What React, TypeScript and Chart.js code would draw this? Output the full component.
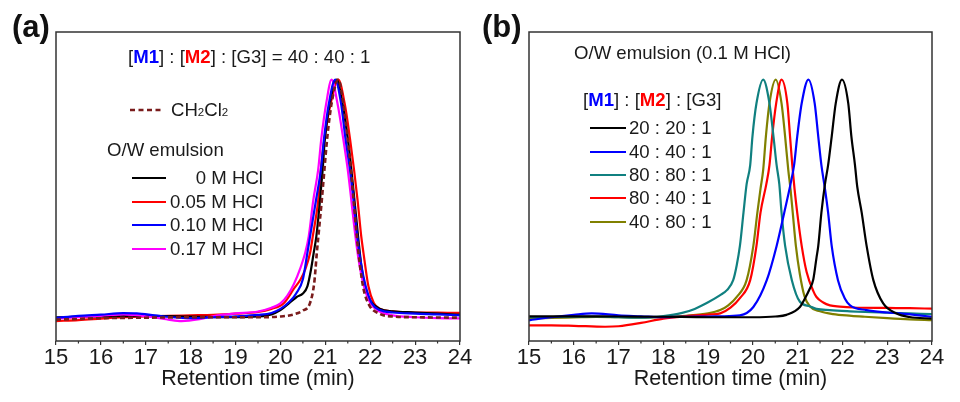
import React, { useEffect, useRef } from "react";
import { Chart, registerables } from "chart.js";

Chart.register(...registerables);

const FONT = '"Liberation Sans", Arial, Helvetica, sans-serif';
const TEXT = "#1a1a1a";

// ---------------- Panel (a) data: [M1]:[M2]:[G3] = 40:40:1 ----------------
const timeA_CH2Cl2 = [15, 15.5, 16, 17, 18, 19, 19.5, 20.0, 20.3, 20.5, 20.65, 20.75, 20.78, 20.81, 20.86, 20.92, 20.97, 21.04, 21.14, 21.29, 21.4, 21.5, 21.57, 21.63, 21.7, 21.77, 21.85, 21.98, 22.2, 22.5, 23, 24];
const signalA_CH2Cl2 = [-0.01, -0.007, -0.004, -0.002, 0.0, 0.0, 0.0, 0.003, 0.012, 0.028, 0.055, 0.14, 0.2, 0.27, 0.37, 0.49, 0.6, 0.75, 0.9, 1.0, 0.9, 0.75, 0.62, 0.49, 0.34, 0.22, 0.12, 0.05, 0.015, 0.003, 0.0, -0.002];

const timeA_0M = [15, 16, 17, 18, 19, 19.5, 19.8, 20.0, 20.2, 20.36, 20.5, 20.6, 20.68, 20.74, 20.8, 20.88, 20.94, 20.99, 21.1, 21.25, 21.38, 21.5, 21.58, 21.65, 21.73, 21.8, 21.88, 22.0, 22.22, 22.5, 23, 23.5, 24];
const signalA_0M = [0.0, 0.003, 0.006, 0.003, 0.0, 0.003, 0.012, 0.03, 0.06, 0.085, 0.1, 0.13, 0.2, 0.27, 0.34, 0.49, 0.62, 0.75, 0.9, 1.0, 0.9, 0.75, 0.62, 0.49, 0.34, 0.22, 0.13, 0.07, 0.035, 0.025, 0.02, 0.015, 0.01];

const timeA_005M = [15, 15.5, 16, 16.5, 17, 17.5, 18, 18.5, 19, 19.5, 19.8, 20.07, 20.3, 20.45, 20.55, 20.66, 20.72, 20.84, 20.9, 20.98, 21.12, 21.29, 21.43, 21.55, 21.64, 21.72, 21.8, 21.85, 21.96, 22.08, 22.22, 22.5, 23, 23.5, 24];
const signalA_005M = [-0.016, -0.012, -0.006, 0.0, 0.003, 0.006, 0.008, 0.01, 0.015, 0.022, 0.035, 0.058, 0.12, 0.16, 0.2, 0.27, 0.34, 0.49, 0.62, 0.75, 0.9, 1.0, 0.9, 0.75, 0.62, 0.49, 0.34, 0.27, 0.13, 0.06, 0.035, 0.025, 0.02, 0.02, 0.018];

const timeA_010M = [15, 15.5, 16, 16.5, 16.8, 17.2, 17.6, 18, 18.5, 19, 19.5, 19.8, 20, 20.2, 20.35, 20.5, 20.6, 20.66, 20.79, 20.9, 20.97, 21.08, 21.22, 21.35, 21.45, 21.55, 21.63, 21.71, 21.8, 21.9, 22.03, 22.22, 22.5, 23, 23.5, 24];
const signalA_010M = [-0.003, 0.006, 0.011, 0.017, 0.016, 0.008, 0.0, -0.004, 0.0, 0.004, 0.01, 0.018, 0.035, 0.065, 0.1, 0.16, 0.27, 0.34, 0.49, 0.62, 0.75, 0.9, 1.0, 0.9, 0.75, 0.62, 0.49, 0.34, 0.22, 0.13, 0.06, 0.03, 0.02, 0.015, 0.012, 0.008];

const timeA_017M = [15, 15.5, 16, 16.5, 17, 17.5, 17.8, 18.2, 18.6, 19, 19.5, 19.8, 20, 20.15, 20.3, 20.45, 20.55, 20.63, 20.73, 20.84, 20.91, 21.02, 21.14, 21.27, 21.4, 21.5, 21.58, 21.67, 21.76, 21.86, 22.0, 22.2, 22.5, 23, 23.5, 24];
const signalA_017M = [-0.006, 0.0, 0.006, 0.012, 0.004, -0.01, -0.016, -0.008, 0.008, 0.016, 0.024, 0.04, 0.058, 0.09, 0.14, 0.21, 0.27, 0.34, 0.49, 0.62, 0.75, 0.9, 1.0, 0.9, 0.75, 0.62, 0.49, 0.34, 0.22, 0.13, 0.06, 0.025, 0.008, 0.0, -0.004, -0.005];

// ---------------- Panel (b) data: O/W emulsion (0.1 M HCl) ----------------
const timeB_20_20 = [15, 16, 17, 18, 19, 20, 20.5, 20.75, 21.05, 21.15, 21.27, 21.35, 21.42, 21.46, 21.53, 21.61, 21.68, 21.76, 21.85, 21.99, 22.13, 22.2, 22.28, 22.33, 22.43, 22.54, 22.69, 22.91, 23.21, 23.5, 24];
const signalB_20_20 = [0.004, 0.004, 0.003, 0.002, 0.0, 0.0, 0.003, 0.01, 0.043, 0.075, 0.12, 0.16, 0.25, 0.3, 0.44, 0.56, 0.64, 0.76, 0.9, 1.0, 0.9, 0.76, 0.64, 0.55, 0.44, 0.3, 0.156, 0.058, 0.016, 0.001, -0.006];

const timeB_40_40 = [15, 15.5, 16, 16.4, 17, 17.5, 18, 18.5, 19, 19.3, 19.71, 20.01, 20.31, 20.53, 20.7, 20.84, 20.92, 20.99, 21.09, 21.24, 21.38, 21.46, 21.53, 21.61, 21.68, 21.76, 21.9, 22.05, 22.17, 22.54, 23, 23.28, 24];
const signalB_40_40 = [-0.013, 0.0, 0.01, 0.016, 0.008, 0.004, 0.0, 0.002, 0.003, 0.004, 0.008, 0.043, 0.156, 0.3, 0.44, 0.56, 0.64, 0.76, 0.9, 1.0, 0.9, 0.76, 0.64, 0.54, 0.44, 0.3, 0.156, 0.08, 0.05, 0.03, 0.02, 0.016, 0.002];

const timeB_80_80 = [15, 15.5, 16, 16.5, 17, 17.5, 18, 18.4, 18.7, 19.0, 19.27, 19.42, 19.56, 19.64, 19.71, 19.79, 19.86, 19.94, 19.99, 20.08, 20.23, 20.37, 20.46, 20.53, 20.59, 20.64, 20.72, 20.87, 21.05, 21.27, 21.42, 21.72, 22.17, 22.5, 23, 23.5, 24];
const signalB_80_80 = [0.0, 0.001, 0.002, 0.003, 0.0, -0.002, 0.005, 0.017, 0.035, 0.063, 0.093, 0.114, 0.156, 0.22, 0.3, 0.44, 0.56, 0.64, 0.76, 0.9, 1.0, 0.9, 0.76, 0.64, 0.56, 0.44, 0.3, 0.156, 0.065, 0.046, 0.035, 0.03, 0.025, 0.022, 0.019, 0.016, 0.013];

const timeB_80_40 = [15, 15.5, 16, 16.7, 17, 17.5, 18, 18.5, 19, 19.27, 19.5, 19.71, 19.94, 20.08, 20.17, 20.3, 20.37, 20.43, 20.52, 20.64, 20.77, 20.83, 20.88, 20.93, 20.99, 21.09, 21.2, 21.35, 21.42, 21.57, 21.72, 21.94, 22.24, 23, 23.5, 24];
const signalB_80_40 = [-0.034, -0.034, -0.036, -0.04, -0.038, -0.024, -0.006, 0.004, 0.011, 0.016, 0.04, 0.08, 0.156, 0.3, 0.44, 0.56, 0.64, 0.76, 0.9, 1.0, 0.9, 0.76, 0.64, 0.54, 0.44, 0.3, 0.19, 0.11, 0.085, 0.062, 0.05, 0.045, 0.041, 0.039, 0.038, 0.036];

const timeB_40_80 = [15, 15.5, 16, 16.5, 17, 17.5, 18, 18.5, 19.0, 19.27, 19.45, 19.64, 19.86, 20.01, 20.1, 20.17, 20.23, 20.29, 20.37, 20.51, 20.64, 20.72, 20.79, 20.84, 20.89, 20.96, 21.05, 21.15, 21.27, 21.5, 21.79, 22.2, 22.5, 23, 23.5, 24];
const signalB_40_80 = [-0.006, -0.003, -0.001, 0.001, 0.0, -0.002, 0.0, 0.006, 0.016, 0.03, 0.05, 0.086, 0.156, 0.3, 0.44, 0.54, 0.62, 0.76, 0.9, 1.0, 0.9, 0.76, 0.62, 0.54, 0.44, 0.3, 0.18, 0.09, 0.046, 0.025, 0.013, 0.006, 0.002, -0.004, -0.009, -0.012];

// axis
const X_MIN = 15;
const X_MAX = 24;
const Y_MIN = -0.1;
const Y_MAX = 1.2;
const minorTickValues = [15.5, 16.5, 17.5, 18.5, 19.5, 20.5, 21.5, 22.5, 23.5];
const axisTitle = "Retention time (min)";

type Series = {
  label: string;
  t: number[];
  y: number[];
  color: string;
  dash?: number[];
  width?: number;
  order: number;
};

const seriesA: Series[] = [
  { label: "CH2Cl2", t: timeA_CH2Cl2, y: signalA_CH2Cl2, color: "#7a1c1c", dash: [5, 3], width: 2.6, order: 0 },
  { label: "0 M HCl", t: timeA_0M, y: signalA_0M, color: "#000000", order: 3 },
  { label: "0.05 M HCl", t: timeA_005M, y: signalA_005M, color: "#ff0000", order: 4 },
  { label: "0.10 M HCl", t: timeA_010M, y: signalA_010M, color: "#0000ff", order: 1 },
  { label: "0.17 M HCl", t: timeA_017M, y: signalA_017M, color: "#ff00ff", order: 2 },
];

const seriesB: Series[] = [
  { label: "20 : 20 : 1", t: timeB_20_20, y: signalB_20_20, color: "#000000", order: 0 },
  { label: "40 : 40 : 1", t: timeB_40_40, y: signalB_40_40, color: "#0000ff", order: 1 },
  { label: "80 : 80 : 1", t: timeB_80_80, y: signalB_80_80, color: "#108080", order: 2 },
  { label: "80 : 40 : 1", t: timeB_80_40, y: signalB_80_40, color: "#ff0000", order: 3 },
  { label: "40 : 80 : 1", t: timeB_40_80, y: signalB_40_80, color: "#808000", order: 4 },
];

const framePlugin = {
  id: "frameBox",
  afterDraw(chart: any) {
    const { ctx, chartArea } = chart;
    const { left, right, top, bottom } = chartArea;
    const xs = chart.scales.x;
    ctx.save();
    ctx.strokeStyle = "#333333";
    ctx.lineWidth = 1.5;
    ctx.strokeRect(left, top, right - left, bottom - top);
    ctx.lineWidth = 1.2;
    ctx.beginPath();
    for (const v of minorTickValues) {
      const px = xs.getPixelForValue(v);
      ctx.moveTo(px, bottom);
      ctx.lineTo(px, bottom + 2.5);
    }
    ctx.stroke();
    ctx.restore();
  },
};

function Panel({ series, padLeft, padRight, left }: { series: Series[]; padLeft: number; padRight: number; left: number }) {
  const ref = useRef<HTMLCanvasElement | null>(null);
  useEffect(() => {
    if (!ref.current) return;
    const chart = new Chart(ref.current, {
      type: "line",
      data: {
        datasets: series.map((s) => ({
          label: s.label,
          data: s.t.map((t, i) => ({ x: t, y: s.y[i] })),
          borderColor: s.color,
          backgroundColor: s.color,
          borderWidth: s.width ?? 2.2,
          borderDash: s.dash ?? [],
          pointRadius: 0,
          fill: false,
          cubicInterpolationMode: "monotone",
          order: s.order,
        })),
      },
      options: {
        animation: false,
        responsive: false,
        maintainAspectRatio: false,
        layout: { padding: { left: padLeft, right: padRight, top: 32, bottom: 0 } },
        plugins: { legend: { display: false }, tooltip: { enabled: false }, title: { display: false } },
        scales: {
          x: {
            type: "linear",
            min: X_MIN,
            max: X_MAX,
            ticks: {
              stepSize: 1,
              autoSkip: false,
              maxRotation: 0,
              padding: 0,
              color: TEXT,
              font: { family: FONT, size: 22 },
            },
            grid: { drawOnChartArea: false, drawTicks: true, tickLength: 4, color: "#333333", lineWidth: 1.2 },
            border: { display: false },
            title: {
              display: true,
              text: axisTitle,
              color: TEXT,
              font: { family: FONT, size: 21.5 },
              padding: { top: 0, bottom: 10 },
            },
            afterFit: (scale: any) => {
              scale.height = 61;
            },
          },
          y: { display: false, min: Y_MIN, max: Y_MAX },
        },
      } as any,
      plugins: [framePlugin],
    });
    return () => chart.destroy();
  }, []);
  return (
    <canvas
      ref={ref}
      width={480}
      height={402}
      style={{ position: "absolute", left, top: 0, width: 480, height: 402 }}
    />
  );
}

const txt = (size = 18.6): React.CSSProperties => ({
  position: "absolute",
  fontFamily: FONT,
  fontSize: size,
  lineHeight: "22px",
  color: TEXT,
  whiteSpace: "nowrap",
});

function Label({ x, cy, children, right, size }: { x: number; cy: number; children: React.ReactNode; right?: boolean; size?: number }) {
  const style: React.CSSProperties = { ...txt(size), top: cy - 11 };
  if (right) {
    style.left = x - 200;
    style.width = 200;
    style.textAlign = "right";
  } else {
    style.left = x;
  }
  return <div style={style}>{children}</div>;
}

function LegLine({ x1, x2, cy, color, dash, width }: { x1: number; x2: number; cy: number; color: string; dash?: string; width?: number }) {
  return (
    <svg style={{ position: "absolute", left: x1, top: cy - 3 }} width={x2 - x1} height={6}>
      <line x1={0} y1={3} x2={x2 - x1} y2={3} stroke={color} strokeWidth={width ?? 2.2} strokeDasharray={dash} />
    </svg>
  );
}

const M1 = <b style={{ color: "#0000ff" }}>M1</b>;
const M2 = <b style={{ color: "#ff0000" }}>M2</b>;
const sub = (s: string) => <span style={{ fontSize: "0.62em" }}>{s}</span>;

const rowsA_y = [178, 201.5, 225, 248.5];
const rowsB_y = [128.3, 151.7, 175, 198.3, 221.7];

export default function App() {
  const legendA = seriesA.slice(1);
  return (
    <div style={{ position: "absolute", left: 0, top: 0, width: 960, height: 402, background: "#fff", overflow: "hidden" }}>
      <Panel series={seriesA} padLeft={56} padRight={20} left={0} />
      <Panel series={seriesB} padLeft={49} padRight={28} left={480} />

      {/* Panel letters */}
      <div style={{ ...txt(31), fontWeight: "bold", lineHeight: "32px", left: 12, top: 11, color: "#111" }}>(a)</div>
      <div style={{ ...txt(31), fontWeight: "bold", lineHeight: "32px", left: 482, top: 11, color: "#111" }}>(b)</div>

      {/* Panel (a) annotations */}
      <Label x={128} cy={57}>
        [{M1}] : [{M2}] : [G3] = 40 : 40 : 1
      </Label>
      <LegLine x1={130} x2={164} cy={110} color="#7a1c1c" dash="5 3.5" width={2.6} />
      <Label x={171} cy={110}>
        CH{sub("2")}Cl{sub("2")}
      </Label>
      <Label x={107} cy={150}>O/W emulsion</Label>
      {legendA.map((s, i) => (
        <React.Fragment key={s.label}>
          <LegLine x1={132} x2={166} cy={rowsA_y[i]} color={s.color} />
          <Label x={263} cy={rowsA_y[i]} right>
            {s.label}
          </Label>
        </React.Fragment>
      ))}

      {/* Panel (b) annotations */}
      <Label x={574} cy={53}>O/W emulsion (0.1 M HCl)</Label>
      <Label x={583} cy={100}>
        [{M1}] : [{M2}] : [G3]
      </Label>
      {seriesB.map((s, i) => (
        <React.Fragment key={s.label}>
          <LegLine x1={590} x2={626} cy={rowsB_y[i]} color={s.color} />
          <Label x={629} cy={rowsB_y[i]}>{s.label}</Label>
        </React.Fragment>
      ))}
    </div>
  );
}
